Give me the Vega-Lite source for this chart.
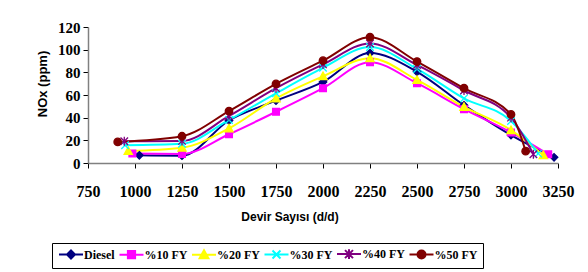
{
  "$schema": "https://vega.github.io/schema/vega-lite/v6.json",
  "width": 470,
  "height": 136,
  "autosize": {"type": "none"},
  "padding": {"left": 88, "top": 27, "right": 30, "bottom": 109},
  "background": "white",
  "config": {"view": {"stroke": null}, "axis": {"grid": false}},
  "data": {"values": [
    {"series": "Diesel", "rpm": 1023, "nox": 6.8},
    {"series": "Diesel", "rpm": 1250, "nox": 6.5},
    {"series": "Diesel", "rpm": 1500, "nox": 37.5},
    {"series": "Diesel", "rpm": 1750, "nox": 55},
    {"series": "Diesel", "rpm": 2000, "nox": 71.5},
    {"series": "Diesel", "rpm": 2250, "nox": 97},
    {"series": "Diesel", "rpm": 2500, "nox": 80.5},
    {"series": "Diesel", "rpm": 2750, "nox": 51},
    {"series": "Diesel", "rpm": 3000, "nox": 24.6},
    {"series": "Diesel", "rpm": 3229, "nox": 5},
    {"series": "%10 FY", "rpm": 986, "nox": 8.3},
    {"series": "%10 FY", "rpm": 1250, "nox": 8},
    {"series": "%10 FY", "rpm": 1500, "nox": 25.4},
    {"series": "%10 FY", "rpm": 1750, "nox": 45.2},
    {"series": "%10 FY", "rpm": 2000, "nox": 66},
    {"series": "%10 FY", "rpm": 2250, "nox": 89},
    {"series": "%10 FY", "rpm": 2500, "nox": 70.4},
    {"series": "%10 FY", "rpm": 2750, "nox": 47.5},
    {"series": "%10 FY", "rpm": 3000, "nox": 27},
    {"series": "%10 FY", "rpm": 3198, "nox": 7.7},
    {"series": "%20 FY", "rpm": 964, "nox": 10.6},
    {"series": "%20 FY", "rpm": 1250, "nox": 13.5},
    {"series": "%20 FY", "rpm": 1500, "nox": 30.5},
    {"series": "%20 FY", "rpm": 1750, "nox": 57},
    {"series": "%20 FY", "rpm": 2000, "nox": 76.5},
    {"series": "%20 FY", "rpm": 2250, "nox": 92.5},
    {"series": "%20 FY", "rpm": 2500, "nox": 73.3},
    {"series": "%20 FY", "rpm": 2750, "nox": 49.5},
    {"series": "%20 FY", "rpm": 3000, "nox": 29},
    {"series": "%20 FY", "rpm": 3172, "nox": 6.8},
    {"series": "%30 FY", "rpm": 947, "nox": 15.7},
    {"series": "%30 FY", "rpm": 1250, "nox": 17},
    {"series": "%30 FY", "rpm": 1500, "nox": 38},
    {"series": "%30 FY", "rpm": 1750, "nox": 61.5},
    {"series": "%30 FY", "rpm": 2000, "nox": 84},
    {"series": "%30 FY", "rpm": 2250, "nox": 102.3},
    {"series": "%30 FY", "rpm": 2500, "nox": 83},
    {"series": "%30 FY", "rpm": 2750, "nox": 57},
    {"series": "%30 FY", "rpm": 3000, "nox": 37},
    {"series": "%30 FY", "rpm": 3145, "nox": 8.3},
    {"series": "%40 FY", "rpm": 943, "nox": 19.2},
    {"series": "%40 FY", "rpm": 1250, "nox": 19.5},
    {"series": "%40 FY", "rpm": 1500, "nox": 41.5},
    {"series": "%40 FY", "rpm": 1750, "nox": 66},
    {"series": "%40 FY", "rpm": 2000, "nox": 87},
    {"series": "%40 FY", "rpm": 2250, "nox": 105.5},
    {"series": "%40 FY", "rpm": 2500, "nox": 86.5},
    {"series": "%40 FY", "rpm": 2750, "nox": 64},
    {"series": "%40 FY", "rpm": 3000, "nox": 40},
    {"series": "%40 FY", "rpm": 3119, "nox": 7.7},
    {"series": "%50 FY", "rpm": 908, "nox": 18.6},
    {"series": "%50 FY", "rpm": 1250, "nox": 23.6},
    {"series": "%50 FY", "rpm": 1500, "nox": 45.8},
    {"series": "%50 FY", "rpm": 1750, "nox": 69.8},
    {"series": "%50 FY", "rpm": 2000, "nox": 90.3},
    {"series": "%50 FY", "rpm": 2250, "nox": 111},
    {"series": "%50 FY", "rpm": 2500, "nox": 89.5},
    {"series": "%50 FY", "rpm": 2750, "nox": 66},
    {"series": "%50 FY", "rpm": 3000, "nox": 42.9},
    {"series": "%50 FY", "rpm": 3078, "nox": 10.4}
  ]},
  "encoding": {
    "x": {
      "field": "rpm", "type": "quantitative",
      "scale": {"domain": [750, 3250], "nice": false, "zero": false},
      "axis": {
        "values": [750, 1000, 1250, 1500, 1750, 2000, 2250, 2500, 2750, 3000, 3250],
        "format": "d",
        "domainColor": "#808080", "domainWidth": 1.5,
        "tickColor": "#000000", "tickSize": 5, "tickWidth": 1,
        "labelFont": "Liberation Serif", "labelFontWeight": "bold", "labelFontSize": 16,
        "labelColor": "#000000", "labelPadding": 15, "labelFlush": false, "labelOverlap": false,
        "title": "Devir Sayısı (d/d)",
        "titleFont": "Liberation Sans", "titleFontWeight": "bold", "titleFontSize": 12,
        "titleColor": "#000000", "titleX": 201.5, "titleY": 57,
        "titleAlign": "center", "titleBaseline": "alphabetic"
      }
    },
    "y": {
      "field": "nox", "type": "quantitative",
      "scale": {"domain": [0, 120], "nice": false},
      "axis": {
        "values": [0, 20, 40, 60, 80, 100, 120],
        "format": "d",
        "domainColor": "#808080", "domainWidth": 1.5,
        "tickColor": "#000000", "tickSize": 5, "tickWidth": 1,
        "labelFont": "Liberation Serif", "labelFontWeight": "bold", "labelFontSize": 15,
        "labelColor": "#000000", "labelPadding": 3, "labelFlush": false, "labelOverlap": false,
        "title": "NOx (ppm)",
        "titleFont": "Liberation Sans", "titleFontWeight": "bold", "titleFontSize": 13,
        "titleColor": "#000000", "titleX": -46, "titleY": 56.5, "titleAngle": 270,
        "titleAlign": "center", "titleBaseline": "middle"
      }
    }
  },
  "layer": [
    {
      "mark": {"type": "line", "interpolate": "monotone", "strokeWidth": 2},
      "encoding": {
        "color": {
          "field": "series", "type": "nominal",
          "scale": {
            "domain": ["Diesel", "%10 FY", "%20 FY", "%30 FY", "%40 FY", "%50 FY"],
            "range": ["#000080", "#FF00FF", "#FFFF00", "#00FFFF", "#800080", "#800000"]
          },
          "legend": {
            "orient": "none", "legendX": -36, "legendY": 216,
            "direction": "horizontal", "columns": 6, "title": null,
            "padding": 5, "strokeColor": "#000000", "fillColor": "#ffffff",
            "labelFont": "Liberation Serif", "labelFontWeight": "bold", "labelFontSize": 12,
            "labelColor": "#000000", "labelOffset": 15, "columnPadding": 0.5,
            "symbolSize": 64, "symbolStrokeWidth": 2,
            "encode": {
              "symbols": {
                "update": {
                  "shape": {"signal": "datum.value == 'Diesel' ? 'M-1,0L5,0M2,-1L3,0L2,1L1,0Z' : datum.value == '%10 FY' ? 'M-1,0L5,0M1.1,-0.9L2.9,-0.9L2.9,0.9L1.1,0.9Z' : datum.value == '%20 FY' ? 'M-1,0L5,0M2,-1.1L3.1,0.9L0.9,0.9Z' : datum.value == '%30 FY' ? 'M-1,0L5,0M1,-1L3,1M1,1L3,-1' : datum.value == '%40 FY' ? 'M-1,0L5,0M1,-1L3,1M1,1L3,-1M2,-1.2L2,1.2' : 'M-1,0L5,0M1,0A1,1,0,1,1,3,0A1,1,0,1,1,1,0Z'"},
                  "fill": {"scale": "color", "field": "value"},
                  "strokeWidth": {"value": 2},
                  "opacity": {"value": 1}
                }
              }
            }
          }
        }
      }
    },
    {"transform": [{"filter": "datum.series == 'Diesel'"}], "mark": {"type": "point", "shape": "M0,-1L1,0L0,1L-1,0Z", "filled": true, "fill": "#000080", "stroke": "#000080", "strokeWidth": 1.3, "opacity": 1, "size": 56}},
    {"transform": [{"filter": "datum.series == '%10 FY'"}], "mark": {"type": "point", "shape": "M-0.9,-0.9L0.9,-0.9L0.9,0.9L-0.9,0.9Z", "filled": true, "fill": "#FF00FF", "stroke": "#FF00FF", "strokeWidth": 1.3, "opacity": 1, "size": 56}},
    {"transform": [{"filter": "datum.series == '%20 FY'"}], "mark": {"type": "point", "shape": "M0,-1.1L1.1,0.9L-1.1,0.9Z", "filled": true, "fill": "#FFFF00", "stroke": "#FFFF00", "strokeWidth": 1.3, "opacity": 1, "size": 56}},
    {"transform": [{"filter": "datum.series == '%30 FY'"}], "mark": {"type": "point", "shape": "M-1,-1L1,1M-1,1L1,-1", "filled": true, "fill": "#00FFFF", "stroke": "#00FFFF", "strokeWidth": 1.3, "opacity": 1, "size": 56}},
    {"transform": [{"filter": "datum.series == '%40 FY'"}], "mark": {"type": "point", "shape": "M-1,-1L1,1M-1,1L1,-1M0,-1.2L0,1.2", "filled": true, "fill": "#800080", "stroke": "#800080", "strokeWidth": 1.3, "opacity": 1, "size": 56}},
    {"transform": [{"filter": "datum.series == '%50 FY'"}], "mark": {"type": "point", "shape": "M-1,0A1,1,0,1,1,1,0A1,1,0,1,1,-1,0Z", "filled": true, "fill": "#800000", "stroke": "#800000", "strokeWidth": 1.3, "opacity": 1, "size": 56}}
  ]
}
